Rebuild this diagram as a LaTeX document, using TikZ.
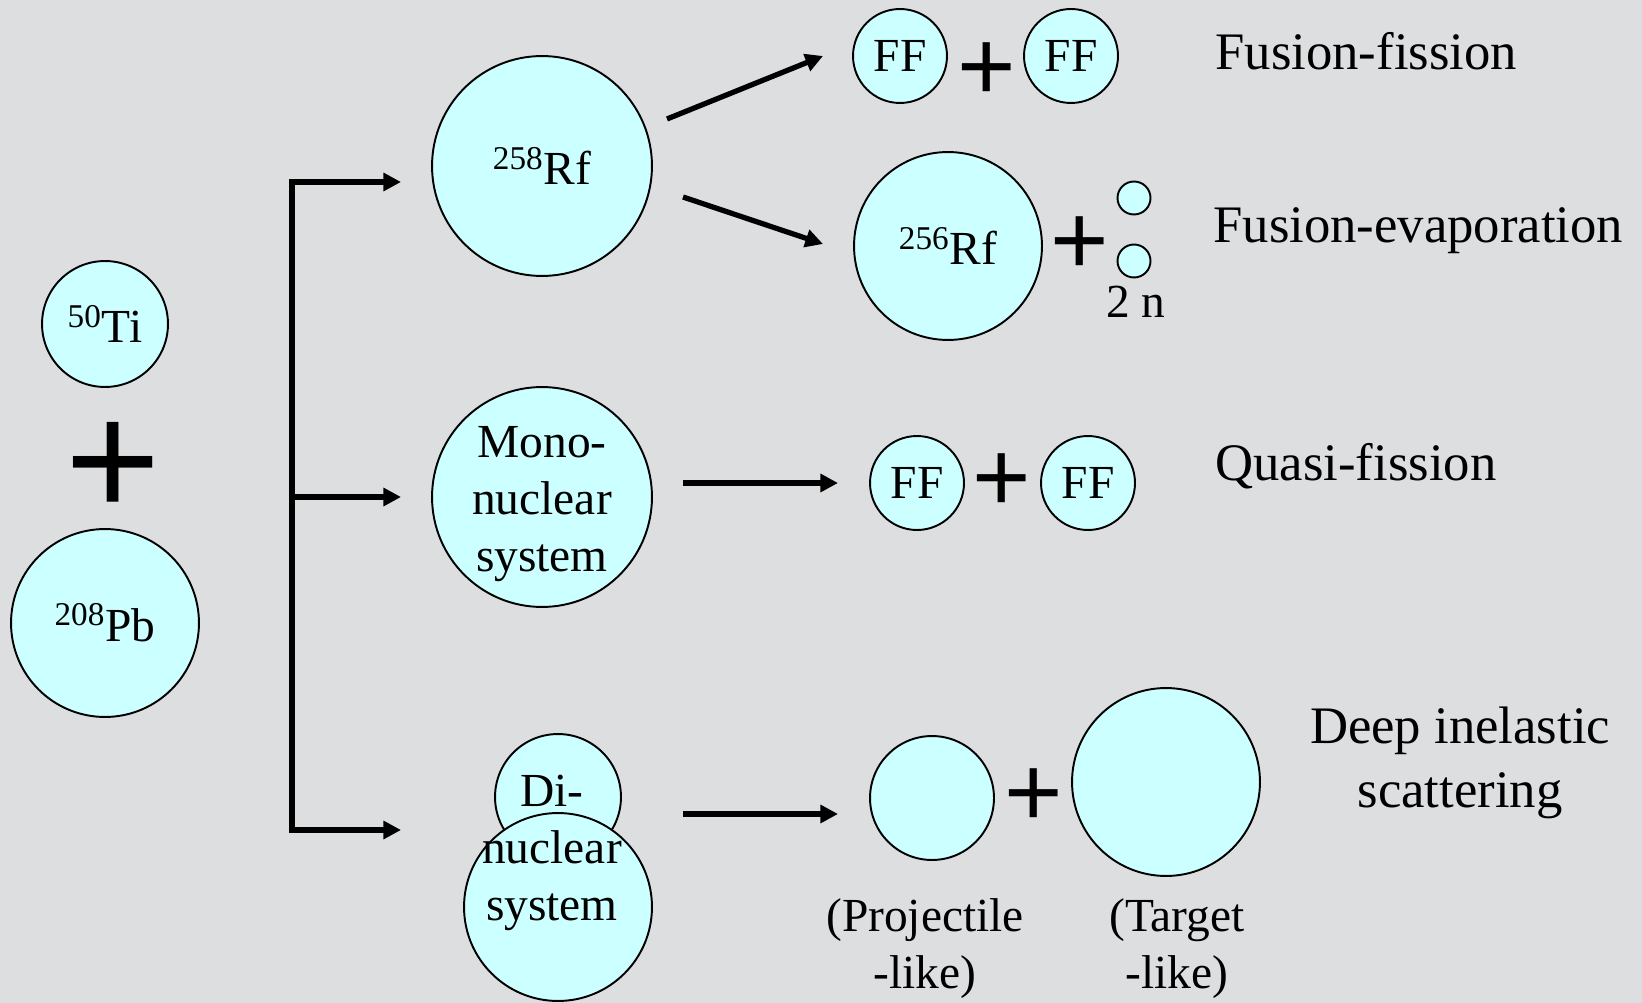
\documentclass[tikz,border=0pt]{standalone}
\usepackage{fontspec}
\setmainfont{Liberation Serif}
\newfontfamily\plusfont{Liberation Sans}
\usetikzlibrary{arrows.meta}
\definecolor{nucfill}{HTML}{CCFFFF}
\definecolor{backgray}{RGB}{221,222,224}

\begin{document}
\begin{tikzpicture}[x=0.02cm,y=-0.02cm,
    >={Triangle[length=10pt,width=10pt]},
    nuc/.style={circle,draw,fill=nucfill,line width=1.1pt,inner sep=0pt,
      minimum size=#1*0.04cm,font=\fontsize{27}{32.4}\selectfont},
    txt/.style={align=center,inner sep=0pt,font=\fontsize{27}{32.4}\selectfont},
    lbl/.style={anchor=base west,inner sep=0pt,font=\fontsize{30}{36}\selectfont},
    bigplus/.style={anchor=base,inner sep=0pt,font=\plusfont\fontsize{92.8}{92.8}\selectfont},
    plus/.style={anchor=base,inner sep=0pt,font=\plusfont\fontsize{57}{57}\selectfont},
    arr/.style={line width=3pt,->}]
    \fill[backgray] (0,0) rectangle (1642,1003);
    \useasboundingbox (0,0) rectangle (1642,1003);

    % colliding nuclei
    \node[nuc=63] (ti) at (105,324) {\textsuperscript{50}Ti};
    \node[bigplus] (p0) at (113,516) {+};
    \node[nuc=94] (pb) at (105,623) {\textsuperscript{208}Pb};

    % branching bracket
    \coordinate (j1) at (292,182);
    \coordinate (j2) at (292,497);
    \coordinate (j3) at (292,830);
    \coordinate (e1) at (401,182);
    \coordinate (e2) at (401,497);
    \coordinate (e3) at (401,830);
    \draw[arr,<->] (e1) -- (j1) -- (j3) -- (e3);
    \draw[arr] (j2) -- (e2);

    % intermediate systems
    \node[nuc=110] (rf258) at (542,166) {\textsuperscript{258}Rf};
    \node[nuc=110] (mono) at (542,497) {};
    \node[txt] (monotxt) at (542,504) {Mono-\\nuclear\\system};
    \node[nuc=63] (di1) at (558,797) {};
    \node[nuc=94] (di2) at (558,907) {};
    \node[txt] (ditxt) at (552,853) {Di-\\nuclear\\system};

    % decay arrows
    \coordinate (a1) at (667,119);
    \coordinate (b1) at (823,56);
    \coordinate (a2) at (683,197);
    \coordinate (b2) at (823,244);
    \coordinate (a3) at (683,483);
    \coordinate (b3) at (838,483);
    \coordinate (a4) at (683,814);
    \coordinate (b4) at (838,814);
    \draw[arr] (a1) -- (b1);
    \draw[arr] (a2) -- (b2);
    \draw[arr] (a3) -- (b3);
    \draw[arr] (a4) -- (b4);

    % fusion-fission
    \node[nuc=47] (ff1) at (900,56) {FF};
    \node[plus] (p1) at (987,101) {+};
    \node[nuc=47] (ff2) at (1071,56) {FF};
    \node[lbl] (l1) at (1215,70) {Fusion-fission};

    % fusion-evaporation
    \node[nuc=94] (rf256) at (948,246) {\textsuperscript{256}Rf};
    \node[plus] (p2) at (1080,275) {+};
    \node[nuc=16.5] (n1) at (1134,198) {};
    \node[nuc=16.5] (n2) at (1134,261) {};
    \node[txt,anchor=base] (nn) at (1136,317) {2 n};
    \node[lbl] (l2) at (1213,243) {Fusion-evaporation};

    % quasi-fission
    \node[nuc=47] (ff3) at (917,483) {FF};
    \node[plus] (p3) at (1002,511) {+};
    \node[nuc=47] (ff4) at (1088,483) {FF};
    \node[lbl] (l3) at (1215,480) {Quasi-fission};

    % deep inelastic
    \node[nuc=62] (proj) at (932,798) {};
    \node[plus] (p4) at (1034,826) {+};
    \node[nuc=94] (targ) at (1166,782) {};
    \node[txt] (projtxt) at (925,949) {(Projectile\\-like)};
    \node[txt] (targtxt) at (1177,949) {(Target\\-like)};
    \node[txt,font=\fontsize{30}{36}\selectfont] (l4) at (1460,763) {Deep inelastic\\scattering};
\end{tikzpicture}
\end{document}
